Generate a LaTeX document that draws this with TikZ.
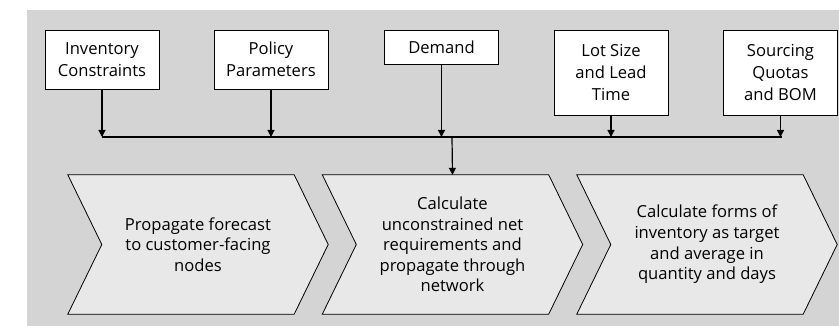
\documentclass[tikz,border=0pt]{standalone}
\usepackage{fontspec}
\setmainfont{Open Sans}
\usetikzlibrary{arrows.meta,calc}
\definecolor{panel}{HTML}{D4D4D4}
\definecolor{stepfill}{HTML}{E8E8E8}
\begin{document}
\begin{tikzpicture}[x=1pt,y=-1pt,
  inbox/.style={draw=black,line width=0.9pt,fill=white,align=center,inner sep=0pt,
    minimum width=114pt,font=\fontsize{16.6}{22}\selectfont},
  chev/.style={inner sep=0pt,minimum width=260pt,minimum height=139pt,align=center,
    font=\fontsize{16.6}{20.6}\selectfont},
  chevline/.style={draw=black,line width=0.8pt,fill=stepfill,line join=miter},
  feed/.style={line width=1.2pt,-{Triangle[width=7pt,length=7pt]}}]
\useasboundingbox (0,0) rectangle (839,326);
% grey panel behind the whole flow
\fill[panel] (27,10) rectangle (839,326);

% input boxes
\node[inbox,minimum height=59pt] (b1) at (102,59.5) {Inventory\\Constraints};
\node[inbox,minimum height=59pt] (b2) at (271,59.5) {Policy\\Parameters};
\node[inbox,minimum height=34pt] (b3) at (441.5,47) {Demand};
\node[inbox,minimum height=85pt] (b4) at (611,72.5) {Lot Size\\and Lead\\Time};
\node[inbox,minimum height=85pt] (b5) at (780.5,72.5) {Sourcing\\Quotas\\and BOM};

% collecting bus
\coordinate (busL) at (102,137);
\coordinate (busR) at (782,137);
\coordinate (busM) at (452,137);
\draw[line width=1.2pt] (busL) -- (busR);
\foreach \b in {b1,b2,b3,b4,b5}
  \draw[feed] (\b.south) -- (\b.south |- busL);

% process steps
\node[chev] (c1) at (198,244.5) {};
\node[chev] (c2) at (452.5,244.5) {};
\node[chev] (c3) at (707,244.5) {};
\foreach \c in {c1,c2,c3}
  \draw[chevline] (\c.north west) -- ($(\c.north east)+(-34,0)$) -- (\c.east)
    -- ($(\c.south east)+(-34,0)$) -- (\c.south west) -- ($(\c.west)+(34,0)$) -- cycle;
\node[chev] at (c1) {Propagate forecast\\to customer-facing\\nodes};
\node[chev] at (c2) {Calculate\\unconstrained net\\requirements and\\propagate through\\network};
\node[chev] at (c3) {Calculate forms of\\inventory as target\\and average in\\quantity and days};

\draw[feed] (busM) -- (c2.north);
\end{tikzpicture}
\end{document}
